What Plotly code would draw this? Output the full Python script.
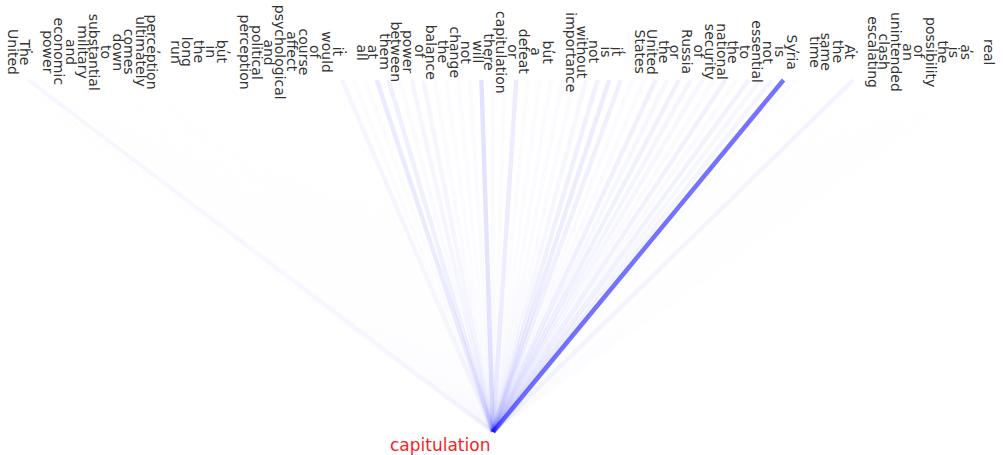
import plotly.graph_objects as go

# Tokens of the sentence (sentence order, drawn right-to-left)
tokens = ["real", ",", "as", "is", "the", "possibility", "of", "an", "unintended", "clash",
          "escalating", ".", "At", "the", "same", "time", ",", "Syria", "is", "not",
          "essential", "to", "the", "national", "security", "of", "Russia", "or", "the", "United",
          "States", ",", "it", "is", "not", "without", "importance", ",", "but", "a",
          "defeat", "or", "capitulation", "there", "will", "not", "change", "the", "balance", "of",
          "power", "between", "them", "at", "all", ".", "it", "would", "of", "course",
          "affect", "psychological", "and", "political", "perception", ",", "but", "in", "the", "long",
          "run", ",", "perception", "ultimately", "comes", "down", "to", "substantial", "military", "and",
          "economic", "power", ".", "The", "United"]

# Attention weights from the target token to every token
attention = [0.003, 0.003, 0.003, 0.003, 0.003, 0.003, 0.003, 0.003, 0.003, 0.003,
             0.003, 0.045, 0.003, 0.003, 0.003, 0.003, 0.01, 0.55, 0.04, 0.03,
             0.05, 0.02, 0.05, 0.02, 0.03, 0.04, 0.06, 0.03, 0.06, 0.02,
             0.02, 0.06, 0.07, 0.06, 0.03, 0.02, 0.02, 0.02, 0.01, 0.01,
             0.07, 0.01, 0.02, 0.11, 0.02, 0.01, 0.01, 0.02, 0.035, 0.035,
             0.02, 0.06, 0.08, 0.01, 0.01, 0.035, 0.005, 0.003, 0.002, 0.002,
             0.002, 0.002, 0.002, 0.002, 0.002, 0.002, 0.002, 0.002, 0.002, 0.002,
             0.002, 0.002, 0.002, 0.002, 0.002, 0.002, 0.002, 0.002, 0.002, 0.002,
             0.002, 0.002, 0.03, 0.004, 0.002]

target_position = 43          # 1-based position of the query token
target_label = "capitulation"

positions = list(range(1, len(tokens) + 1))

fig = go.Figure()

order = sorted(range(len(tokens)), key=lambda k: attention[k])
for k in order:
    fig.add_trace(go.Scatter(
        x=[target_position, positions[k]],
        y=[0, 1],
        mode="lines",
        line=dict(color=f"rgba(0,0,255,{attention[k]})", width=4.5),
        hoverinfo="skip",
        showlegend=False,
    ))

annotations = []
for tok, pos in zip(tokens, positions):
    annotations.append(dict(
        x=pos, y=1, xref="x", yref="y", text=tok, textangle=90, showarrow=False,
        font=dict(family="DejaVu Sans", size=14, color="#333333"),
        xshift=8, yshift=28,
    ))

annotations.append(dict(
    x=target_position, y=0, xref="x", yref="y", text=target_label, showarrow=False,
    xanchor="right", yanchor="top", xshift=-1, yshift=-1,
    font=dict(family="DejaVu Sans", size=17, color="rgb(250,30,40)"),
))

fig.update_layout(
    width=1003, height=455,
    margin=dict(l=0, r=0, t=0, b=0),
    paper_bgcolor="white", plot_bgcolor="white",
    xaxis=dict(range=[85.43, -0.89], visible=False, fixedrange=True),
    yaxis=dict(range=[-0.0653, 1.2273], visible=False, fixedrange=True),
    annotations=annotations,
)

fig.write_html("out.html", config={"displayModeBar": False},
               post_script="document.body.style.margin='0px';")
